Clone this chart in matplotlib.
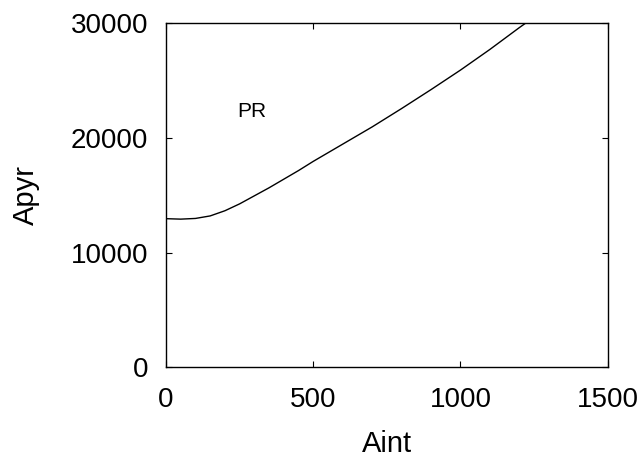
import matplotlib
matplotlib.use('Agg')
import matplotlib.pyplot as plt

plt.rcParams['font.family'] = ['Liberation Sans', 'DejaVu Sans']

# curve read at regular Aint steps
aint = [0, 50, 100, 150, 200, 250, 300, 350, 400, 450, 500, 550, 600, 650, 700,
        800, 900, 1000, 1100, 1200, 1222]
apyr = [12960, 12920, 12980, 13200, 13650, 14250, 14950, 15650, 16400, 17150, 17950,
        18700, 19450, 20200, 20950, 22550, 24200, 25900, 27700, 29600, 30000]

fig = plt.figure(figsize=(6.42, 4.58), dpi=100)
ax = fig.add_axes([0.2586, 0.1976, 0.6880, 0.7522])

ax.plot(aint, apyr, color='black', linewidth=1.0)
ax.text(292, 22300, 'PR', fontsize=15, ha='center', va='center')

ax.set_xlim(0, 1500)
ax.set_ylim(0, 30000)
ax.set_xticks([0, 500, 1000, 1500])
ax.set_yticks([0, 10000, 20000, 30000])
ax.tick_params(direction='in', top=True, right=True, length=4.5, width=0.8,
               labelsize=20, pad=13)
ax.tick_params(axis='x', pad=14)
ax.set_xlabel('Aint', fontsize=21, labelpad=12)
ax.set_ylabel('Apyr', fontsize=21, labelpad=22)
for s in ax.spines.values():
    s.set_linewidth(1.0)

fig.savefig('out.png', dpi=100)
